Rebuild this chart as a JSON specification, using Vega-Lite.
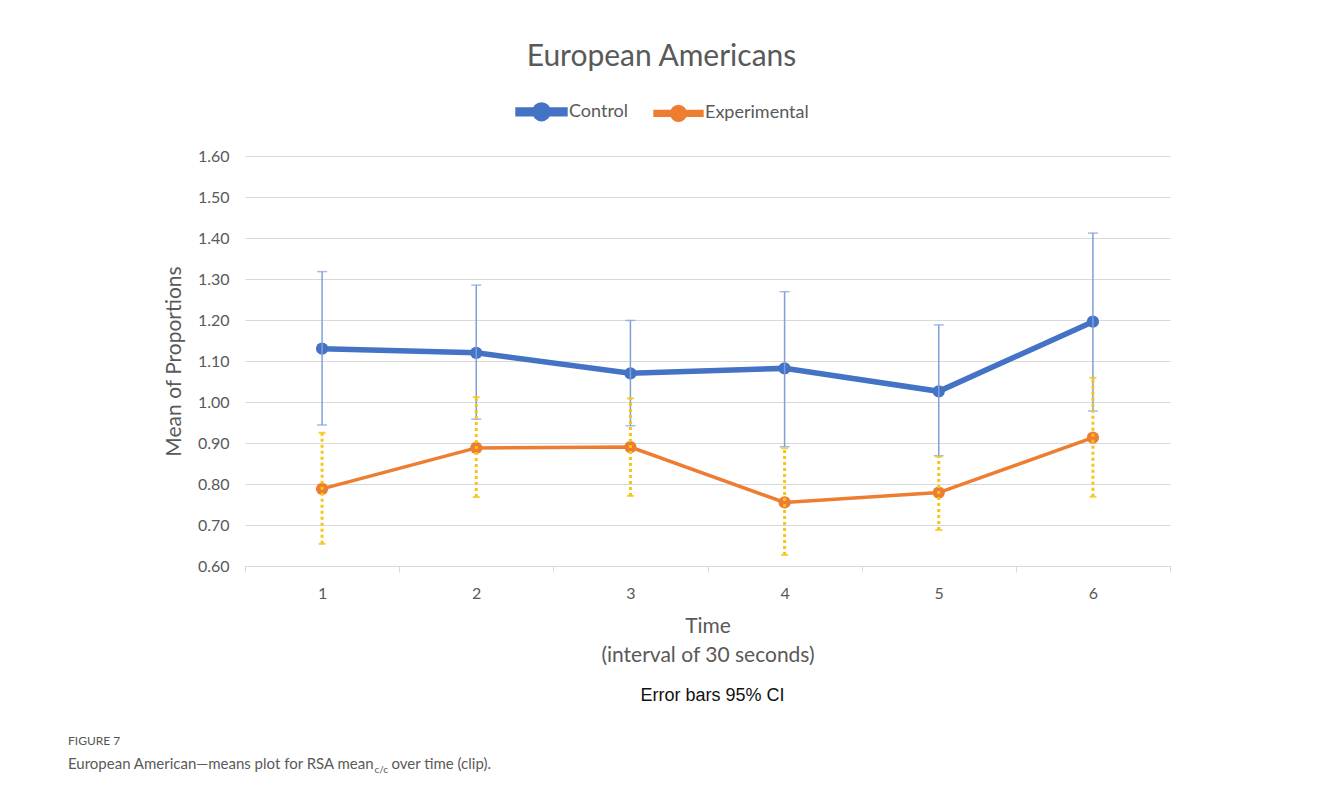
{
  "$schema": "https://vega.github.io/schema/vega-lite/v6.json",
  "width": 925,
  "height": 410,
  "autosize": {"type": "none"},
  "padding": {"left": 245, "top": 156, "right": 158, "bottom": 230},
  "background": "white",
  "config": {"view": {"stroke": null}, "font": "Lato"},
  "title": {"text": "European Americans", "fontSize": 30, "font": "Lato", "color": "#595959", "fontWeight": "normal", "anchor": "middle", "dx": -46, "offset": 13},
  "data": {
    "values": [
      {"series": "Control", "time": "1", "mean": 1.130, "lo": 0.944, "hi": 1.318},
      {"series": "Control", "time": "2", "mean": 1.120, "lo": 0.958, "hi": 1.285},
      {"series": "Control", "time": "3", "mean": 1.070, "lo": 0.942, "hi": 1.199},
      {"series": "Control", "time": "4", "mean": 1.082, "lo": 0.891, "hi": 1.269},
      {"series": "Control", "time": "5", "mean": 1.026, "lo": 0.869, "hi": 1.188},
      {"series": "Control", "time": "6", "mean": 1.196, "lo": 0.978, "hi": 1.412},
      {"series": "Experimental", "time": "1", "mean": 0.788, "lo": 0.654, "hi": 0.925},
      {"series": "Experimental", "time": "2", "mean": 0.888, "lo": 0.768, "hi": 1.012},
      {"series": "Experimental", "time": "3", "mean": 0.890, "lo": 0.771, "hi": 1.009},
      {"series": "Experimental", "time": "4", "mean": 0.755, "lo": 0.627, "hi": 0.887},
      {"series": "Experimental", "time": "5", "mean": 0.779, "lo": 0.688, "hi": 0.867},
      {"series": "Experimental", "time": "6", "mean": 0.913, "lo": 0.769, "hi": 1.059}
    ]
  },
  "layer": [
    {
      "encoding": {
        "x": {
          "field": "time", "type": "ordinal",
          "scale": {"type": "band", "paddingInner": 0, "paddingOuter": 0},
          "axis": {
            "title": ["Time", "(interval of 30 seconds)"],
            "labelAngle": 0, "tickBand": "extent", "grid": false,
            "domainColor": "#d9d9d9", "tickColor": "#d9d9d9", "tickSize": 6,
            "labelFontSize": 16, "labelColor": "#595959", "labelPadding": 13,
            "titleFontSize": 21, "titleColor": "#595959", "titleFontWeight": "normal",
            "titleLineHeight": 29, "titlePadding": 14
          }
        }
      },
      "layer": [
        {
          "mark": {"type": "line"},
          "encoding": {
            "y": {
              "field": "mean", "type": "quantitative",
              "scale": {"domain": [0.6, 1.6], "nice": false, "zero": false},
              "axis": {
                "title": "Mean of Proportions",
                "values": [0.6, 0.7, 0.8, 0.9, 1.0, 1.1, 1.2, 1.3, 1.4, 1.5, 1.6],
                "format": ".2f", "domain": false, "ticks": false,
                "gridColor": "#d9d9d9", "gridWidth": 1,
                "labelFontSize": 16, "labelColor": "#595959", "labelPadding": 16,
                "titleFontSize": 21, "titleColor": "#595959", "titleFontWeight": "normal", "titlePadding": 13
              }
            },
            "color": {
              "field": "series", "type": "nominal",
              "scale": {"domain": ["Control", "Experimental"], "range": ["#4472c4", "#ed7d31"]},
              "legend": {
                "orient": "none", "legendX": 270, "legendY": -71, "direction": "horizontal", "title": null,
                "symbolType": "M-1,-0.08L1,-0.08L1,0.08L-1,0.08Z M0.29,0A0.29,0.29,0,1,1,-0.29,0A0.29,0.29,0,1,1,0.29,0Z",
                "symbolSize": 2200, "symbolStrokeWidth": 0,
                "labelFontSize": 18, "labelColor": "#595959", "labelOffset": 1, "columnPadding": 19, "padding": 0,
                "encode": {"symbols": {"update": {"fill": {"scale": "color", "field": "value"}, "stroke": {"value": "transparent"}}}}
              }
            },
            "strokeWidth": {
              "field": "series", "type": "nominal",
              "scale": {"domain": ["Control", "Experimental"], "range": [5.5, 3.5]},
              "legend": null
            }
          }
        },
        {
          "mark": {"type": "point", "filled": true, "opacity": 1, "size": 150},
          "encoding": {
            "y": {"field": "mean", "type": "quantitative"},
            "color": {"field": "series", "type": "nominal"}
          }
        },
        {
          "transform": [{"filter": "datum.series === 'Control'"}],
          "mark": {"type": "rule", "color": "#7f9fd8", "strokeWidth": 1.5},
          "encoding": {
            "y": {"field": "lo", "type": "quantitative"},
            "y2": {"field": "hi"}
          }
        },
        {
          "transform": [{"filter": "datum.series === 'Control'"}],
          "mark": {"type": "tick", "color": "#7f9fd8", "thickness": 1.5, "size": 10},
          "encoding": {"y": {"field": "lo", "type": "quantitative"}}
        },
        {
          "transform": [{"filter": "datum.series === 'Control'"}],
          "mark": {"type": "tick", "color": "#7f9fd8", "thickness": 1.5, "size": 10},
          "encoding": {"y": {"field": "hi", "type": "quantitative"}}
        },
        {
          "transform": [{"filter": "datum.series === 'Experimental'"}],
          "mark": {"type": "rule", "color": "#f5c518", "strokeWidth": 3, "strokeDash": [3, 3]},
          "encoding": {
            "y": {"field": "lo", "type": "quantitative"},
            "y2": {"field": "hi"}
          }
        },
        {
          "transform": [{"filter": "datum.series === 'Experimental'"}],
          "mark": {"type": "tick", "color": "#f5c518", "thickness": 2, "size": 7, "opacity": 0.8},
          "encoding": {"y": {"field": "lo", "type": "quantitative"}}
        },
        {
          "transform": [{"filter": "datum.series === 'Experimental'"}],
          "mark": {"type": "tick", "color": "#f5c518", "thickness": 2, "size": 7, "opacity": 0.8},
          "encoding": {"y": {"field": "hi", "type": "quantitative"}}
        }
      ]
    },
    {
      "data": {"values": [{"note": "Error bars 95% CI"}]},
      "mark": {"type": "text", "font": "Liberation Sans", "fontSize": 18, "color": "#111111", "align": "center", "baseline": "middle", "dx": 5},
      "encoding": {"y": {"datum": 0.283}, "text": {"field": "note"}}
    },
    {
      "data": {"values": [{"note": "FIGURE 7"}]},
      "mark": {"type": "text", "font": "Lato", "fontSize": 12, "color": "#555555", "align": "left", "baseline": "middle", "dx": -639.5},
      "encoding": {"y": {"datum": 0.173}, "text": {"field": "note"}}
    },
    {
      "data": {"values": [{"note": "European American—means plot for RSA mean"}]},
      "mark": {"type": "text", "font": "Lato", "fontSize": 15, "color": "#5a5a5a", "align": "left", "baseline": "middle", "dx": -639.5},
      "encoding": {"y": {"datum": 0.117}, "text": {"field": "note"}}
    },
    {
      "data": {"values": [{"note": "c/c"}]},
      "mark": {"type": "text", "font": "Lato", "fontSize": 10, "color": "#5a5a5a", "align": "left", "baseline": "middle", "dx": -333},
      "encoding": {"y": {"datum": 0.1024}, "text": {"field": "note"}}
    },
    {
      "data": {"values": [{"note": "over time (clip)."}]},
      "mark": {"type": "text", "font": "Lato", "fontSize": 15, "color": "#5a5a5a", "align": "left", "baseline": "middle", "dx": -316}, 
      "encoding": {"y": {"datum": 0.117}, "text": {"field": "note"}}
    }
  ]
}
